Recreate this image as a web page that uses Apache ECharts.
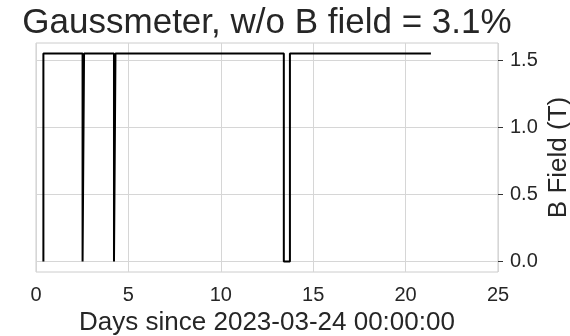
<!DOCTYPE html>
<html>
<head>
<meta charset="utf-8">
<script src="https://cdn.jsdelivr.net/npm/echarts@6/dist/echarts.min.js"></script>
<style>
  html, body { margin: 0; padding: 0; background: #fff; }
  #chart { width: 570px; height: 336px; }
</style>
</head>
<body>
<div id="chart"></div>
<script>
// step trace of the gaussmeter reading (days, tesla)
const days  = [0.40, 0.40, 2.52, 2.52, 2.60, 2.60, 4.22, 4.22, 4.30, 4.30, 13.41, 13.41, 13.74, 13.74, 21.37];
const field = [0,    1.55, 1.55, 0,    0,    1.55, 1.55, 0,    0,    1.55, 1.55,  0,     0,     1.55,  1.55];
const xTicks = [0, 5, 10, 15, 20, 25];
const yTicks = [0, 0.5, 1.0, 1.5];

const textColor = '#262626';
const gridColor = '#d6d6d6';

const chart = echarts.init(document.getElementById('chart'));
chart.setOption({
  animation: false,
  backgroundColor: '#fff',
  textStyle: { fontFamily: 'Liberation Sans, Arial, sans-serif' },
  title: {
    text: 'Gaussmeter, w/o B field = 3.1%',
    left: 262,
    top: 1,
    textAlign: 'center',
    textStyle: { fontSize: 35, fontWeight: 'normal', color: textColor }
  },
  grid: {
    left: 36, right: 72, top: 43, bottom: 64,
    containLabel: false, outerBoundsMode: 'none',
    show: true, borderColor: '#cccccc', borderWidth: 1
  },
  xAxis: {
    type: 'value',
    min: 0, max: 25, interval: 5,
    name: 'Days since 2023-03-24 00:00:00',
    nameLocation: 'middle',
    nameGap: 38,
    nameTextStyle: { fontSize: 26, color: textColor },
    axisLine: { show: false },
    axisTick: { show: false },
    axisLabel: { fontSize: 20, color: textColor, margin: 13, customValues: xTicks },
    splitLine: { show: true, lineStyle: { color: gridColor, width: 1 } }
  },
  yAxis: {
    type: 'value',
    position: 'right',
    min: -0.0775, max: 1.6275,
    name: 'B Field (T)',
    nameLocation: 'middle',
    nameRotate: 90,
    nameGap: 48,
    nameMoveOverlap: false,
    nameTextStyle: { fontSize: 26, color: textColor },
    axisLine: { show: false, onZero: false },
    axisTick: { show: true, inside: false, length: 5, lineStyle: { color: '#333', width: 1 }, customValues: yTicks },
    axisLabel: { fontSize: 20, color: textColor, margin: 12, customValues: yTicks,
      formatter: v => v.toFixed(1) },
    splitLine: { show: true, lineStyle: { color: gridColor, width: 1 } }
  },
  series: [{
    type: 'line',
    data: days.map((d, i) => [d, field[i]]),
    showSymbol: false,
    lineStyle: { color: '#000', width: 2 }
  }]
});
</script>
</body>
</html>
